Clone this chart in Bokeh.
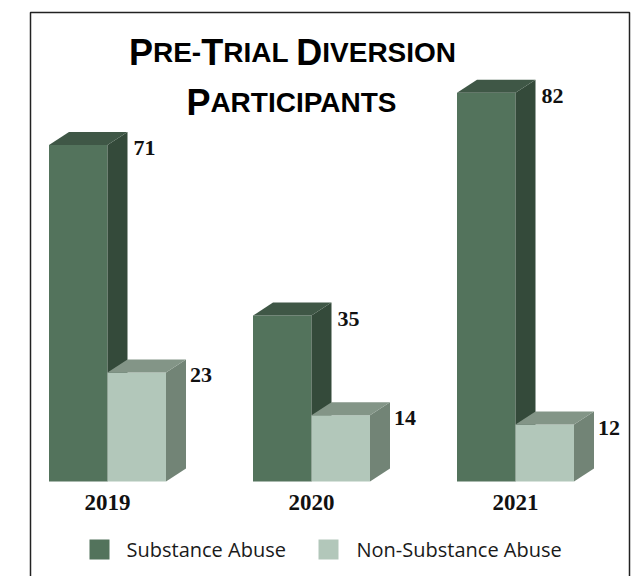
from bokeh.plotting import figure
from bokeh.models import Range1d
from bokeh.core.properties import value
from bokeh.embed import file_html
from bokeh.resources import INLINE

# ---- data ----
years = ["2019", "2020", "2021"]
substance = [71, 35, 82]
non_substance = [23, 14, 12]
series_names = ["Substance Abuse", "Non-Substance Abuse"]
title_line1 = [("P", "big"), ("RE-", "small"), ("T", "big"), ("RIAL", "small"), (" ", "small"),
               ("D", "big"), ("IVERSION", "small")]
title_line2 = [("P", "big"), ("ARTICIPANTS", "small")]

# ---- colours ----
SUB_FRONT, SUB_SIDE, SUB_TOP = "#53735C", "#344A3A", "#3F5746"
NON_FRONT, NON_SIDE, NON_TOP = "#B2C7BA", "#728476", "#839587"

# ---- geometry helpers (page pixels -> data units) ----
W, H = 638, 576
PX = 204.0      # pixels per group
X0 = 107.0      # page x of first group centre
S = 4.74        # pixels per unit value
BASE = 481.0    # page y of bar base


def fx(page_x):
    return (page_x - X0) / PX


def fy(page_y):
    return (BASE - page_y) / S


p = figure(width=W, height=H,
           x_range=Range1d(fx(0), fx(W)), y_range=Range1d(fy(H), fy(0)),
           output_backend="svg", toolbar_location=None, min_border=0,
           x_axis_location=None, y_axis_location=None)
p.grid.visible = False
p.outline_line_color = None
p.background_fill_color = "white"

# frame border
p.line([fx(30), fx(30), fx(629), fx(629)], [fy(640), fy(12), fy(12), fy(640)],
       line_color="#222222", line_width=1.5)

BW = 58.5 / PX
DX = 20 / PX
DY = 13 / S


def bar3d(xl, xr, v, front, side, top):
    p.quad(left=[xl], right=[xr], bottom=[0], top=[v], fill_color=front, line_color=None)
    p.patch([xr, xr + DX, xr + DX, xr], [0, DY, v + DY, v], fill_color=side, line_color=None)
    p.patch([xl, xl + DX, xr + DX, xr], [v, v + DY, v + DY, v], fill_color=top, line_color=None)


label_font = value("Liberation Serif")
for i, yr in enumerate(years):
    s_val = substance[i]
    n_val = non_substance[i]
    bar3d(i - BW, i, s_val, SUB_FRONT, SUB_SIDE, SUB_TOP)
    bar3d(i, i + BW, n_val, NON_FRONT, NON_SIDE, NON_TOP)
    p.text(x=[i + DX + 6 / PX], y=[s_val - 3 / S], text=[str(s_val)],
           text_font=label_font, text_font_style="bold", text_font_size="22px",
           text_baseline="middle", text_align="left", text_color="#111111")
    p.text(x=[i + BW + DX + 4 / PX], y=[n_val - 3 / S], text=[str(n_val)],
           text_font=label_font, text_font_style="bold", text_font_size="22px",
           text_baseline="middle", text_align="left", text_color="#111111")
    p.text(x=[i], y=[fy(502)], text=[yr],
           text_font=label_font, text_font_style="bold", text_font_size="23px",
           text_baseline="middle", text_align="center", text_color="#111111")

# legend
leg_font = value("Open Sans")
p.scatter([fx(99)], [fy(549)], marker="square", size=20, fill_color=SUB_FRONT, line_color=None)
p.scatter([fx(328)], [fy(549)], marker="square", size=20, fill_color=NON_FRONT, line_color=None)
p.text(x=[fx(126)], y=[fy(549)], text=[series_names[0]], text_font=leg_font,
       text_font_size="20px", text_baseline="middle", text_color="#1a1a1a")
p.text(x=[fx(356)], y=[fy(549)], text=[series_names[1]], text_font=leg_font,
       text_font_size="20px", text_baseline="middle", text_color="#1a1a1a")

# title in small caps (pieces), Liberation Sans Bold metrics (= Arial Bold)
AW = {"P": 667, "R": 722, "E": 667, "-": 333, "T": 611, "I": 278, "A": 722, "L": 611,
      " ": 278, "D": 722, "V": 667, "S": 667, "O": 778, "N": 722, "C": 722}
SIZES = {"big": 36, "small": 28}
title_font = value("Liberation Sans")


def piece_w(txt, kind):
    return sum(AW[c] for c in txt) / 1000.0 * SIZES[kind]


def draw_title_line(pieces, centre_page_x, baseline_page_y):
    total = sum(piece_w(t, k) for t, k in pieces)
    x = centre_page_x - total / 2
    for t, k in pieces:
        p.text(x=[fx(x)], y=[fy(baseline_page_y)], text=[t], text_font=title_font,
               text_font_style="bold", text_font_size=f"{SIZES[k]}px",
               text_baseline="alphabetic", text_align="left", text_color="#000000")
        x += piece_w(t, k)


draw_title_line(title_line1, 292, 52)
draw_title_line(title_line2, 292, 102)

open("out.html", "w").write(file_html(p, INLINE))
